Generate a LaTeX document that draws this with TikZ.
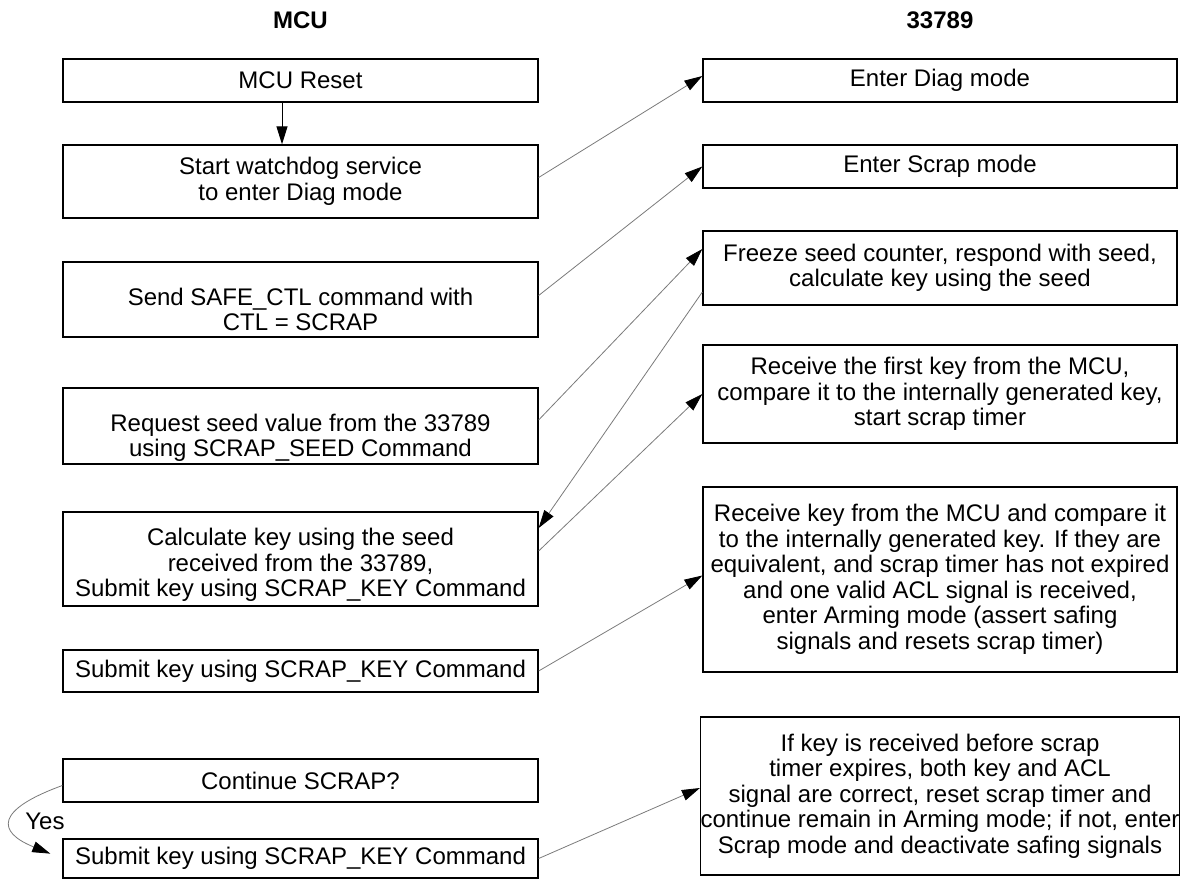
\documentclass[tikz,border=0pt]{standalone}
\usepackage{fontspec}
\setmainfont{Liberation Sans}
\usetikzlibrary{arrows.meta}
\definecolor{cline}{HTML}{7A7A7A}
\newcommand\padtop[1]{\rule{0pt}{#1}}
\tikzset{
  every picture/.style={font=\fontsize{24}{25.5}\selectfont},
  box/.style={draw, line width=1.3pt, minimum width=475pt, inner sep=0pt, align=center},
  link/.style={-{Triangle[length=18pt, width=11pt, color=black]}, draw=cline, line width=0.8pt},
  title/.style={font=\fontsize{24}{25.5}\selectfont\bfseries},
}

\begin{document}
\begin{tikzpicture}[x=1pt, y=-1pt]
  \useasboundingbox (0,0) rectangle (1183,880);
  \node[title] (tmcu) at (300.5,20) {MCU};
  \node[title] (tchip) at (940,20) {33789};
  % MCU column
  \node[box, minimum height=43pt] (reset) at (300.5,80.5) {MCU Reset};
  \node[box, minimum height=73pt] (wdog) at (300.5,181.5) {Start watchdog service\\to enter Diag mode};
  \node[box, minimum height=75pt] (safectl) at (300.5,299.5) {\padtop{37pt}Send SAFE\_CTL command with\\CTL = SCRAP};
  \node[box, minimum height=76pt] (reqseed) at (300.5,426) {\padtop{41pt}Request seed value from the 33789\\using SCRAP\_SEED Command};
  \node[box, minimum height=94pt] (calckey) at (300.5,559) {\padtop{29pt}Calculate key using the seed\\received from the 33789,\\Submit key using SCRAP\_KEY Command};
  \node[box, minimum height=42pt] (submit1) at (300.5,671) {Submit key using SCRAP\_KEY Command};
  \node[box, minimum height=43pt] (cont) at (300.5,780.5) {Continue SCRAP?};
  \node[box, minimum height=39pt] (submit2) at (300.5,858.5) {Submit key using SCRAP\_KEY Command};
  % 33789 column
  \node[box, minimum width=474pt, minimum height=43pt] (diag) at (940,80.5) {Enter Diag mode};
  \node[box, minimum width=474pt, minimum height=43pt] (scrap) at (940,166.5) {Enter Scrap mode};
  \node[box, minimum width=474pt, minimum height=74pt] (freeze) at (940,268) {Freeze seed counter, respond with seed,\\calculate key using the seed};
  \node[box, minimum width=474pt, minimum height=98pt] (firstkey) at (940,394) {Receive the first key from the MCU,\\compare it to the internally generated key,\\start scrap timer};
  \node[box, minimum width=474pt, minimum height=185pt] (arming) at (940,579.5) {Receive key from the MCU and compare it\\to the internally generated key. If they are\\equivalent, and scrap timer has not expired\\and one valid ACL signal is received,\\enter Arming mode (assert safing\\signals and resets scrap timer)};
  \node[box, minimum width=474pt, minimum height=158pt] (keep) at (940,796) {If key is received before scrap\\timer expires, both key and ACL\\signal are correct, reset scrap timer and\\continue remain in Arming mode; if not, enter\\Scrap mode and deactivate safing signals};
  % connectors
  \draw[-{Triangle[length=18pt, width=11pt]}, line width=1pt] ([xshift=-18.5pt]reset.south) -- ([xshift=-18.5pt]wdog.north);
  \draw[link] ([yshift=4pt]wdog.east) -- ([yshift=4.5pt]diag.west);
  \draw[link] ([yshift=4pt]safectl.east) -- (scrap.west);
  \draw[link] ([yshift=6pt]reqseed.east) -- ([yshift=19pt]freeze.west);
  \draw[link] ([yshift=-24pt]freeze.west) -- ([yshift=31pt]calckey.east);
  \draw[link] ([yshift=8pt]calckey.east) -- (firstkey.west);
  \draw[link] (submit1.east) -- ([yshift=4pt]arming.west);
  \draw[link] (submit2.east) -- ([yshift=8pt]keep.west);
  \draw[link, shorten >=13pt] ([yshift=-5pt]cont.west) to[out=200, in=158, looseness=2.5] (submit2.west);
  \node (yes) at (45,821) {Yes};
\end{tikzpicture}
\end{document}
